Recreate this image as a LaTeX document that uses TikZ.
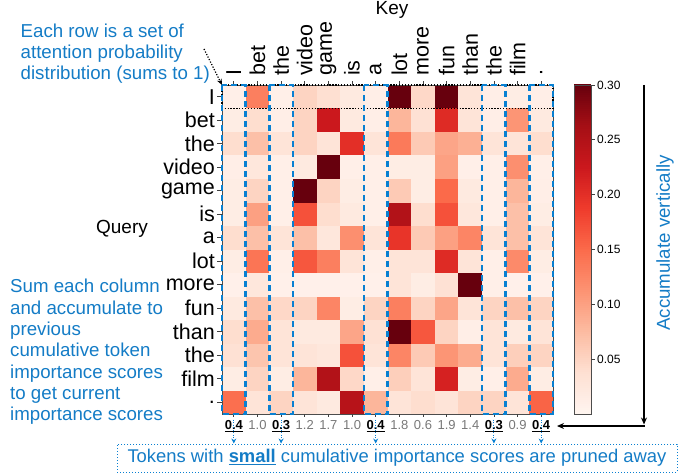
\documentclass[tikz,border=0pt]{standalone}
\usepackage{fontspec}
\setmainfont{Liberation Sans}
\usetikzlibrary{arrows.meta}
\definecolor{R0}{RGB}{255,245,240}
\definecolor{R1}{RGB}{254,224,210}
\definecolor{R2}{RGB}{252,187,161}
\definecolor{R3}{RGB}{252,146,114}
\definecolor{R4}{RGB}{251,106,74}
\definecolor{R5}{RGB}{239,59,44}
\definecolor{R6}{RGB}{203,24,29}
\definecolor{R7}{RGB}{165,15,21}
\definecolor{R8}{RGB}{103,0,13}
\definecolor{annblue}{RGB}{20,124,198}
\definecolor{dashblue}{RGB}{8,128,210}
\definecolor{numgray}{RGB}{120,120,120}
\newcommand\hmcolor[1]{%
  \pgfmathsetmacro\hmT{min(#1/0.30*8,7.999)}%
  \pgfmathtruncatemacro\hmK{floor(\hmT)}%
  \pgfmathtruncatemacro\hmN{\hmK+1}%
  \pgfmathsetmacro\hmF{(\hmT-\hmK)*100}%
  \colorlet{heat}{R\hmN!\hmF!R\hmK}%
}
\tikzset{
  rowlab/.style={anchor=east, inner sep=0.5pt, font=\fontsize{21.5}{24}\selectfont},
  keylab/.style={rotate=90, anchor=west, inner sep=0.5pt, font=\fontsize{21.5}{24}\selectfont},
  axtitle/.style={inner sep=0pt, font=\fontsize{19}{22}\selectfont},
  tickline/.style={line width=0.7pt, black!75},
  colbox/.style={draw=dashblue, line width=2.7pt, dash pattern=on 6pt off 4pt},
  rowbox/.style={draw=black, line width=1.3pt, dash pattern=on 1.3pt off 1.6pt},
  anntext/.style={text=annblue, font=\fontsize{18.7}{21.3}\selectfont, inner sep=0pt, align=left},
  numlab/.style={anchor=base, inner sep=1pt, font=\fontsize{13}{15}\selectfont},
  cblab/.style={anchor=west, inner sep=0pt, font=\fontsize{12}{14}\selectfont},
  pointer/.style={black, line width=1.2pt, dash pattern=on 1.2pt off 1.6pt, -{Stealth[length=6pt,width=5pt]}},
  accarrow/.style={black, line width=1.3pt, -{Stealth[length=7pt,width=6pt]}},
  prunearrow/.style={dashblue, line width=1pt, dash pattern=on 1pt off 1.5pt, -{Stealth[length=5pt,width=5pt]}},
}
\begin{document}
\begin{tikzpicture}[x=1pt,y=-1pt]
\useasboundingbox (0,0) rectangle (683,476);
% heatmap cells
\foreach \rowvals [count=\r from 0] in {
 {0.010,0.130,0.010,0.050,0.037,0.020,0.012,0.300,0.045,0.300,0.030,0.012,0.015,0.012},
 {0.015,0.040,0.012,0.050,0.225,0.020,0.012,0.080,0.035,0.205,0.030,0.012,0.110,0.020},
 {0.040,0.070,0.030,0.050,0.030,0.200,0.030,0.135,0.060,0.095,0.085,0.030,0.030,0.040},
 {0.012,0.025,0.010,0.020,0.300,0.010,0.010,0.015,0.015,0.100,0.010,0.010,0.115,0.010},
 {0.015,0.050,0.010,0.300,0.050,0.015,0.010,0.060,0.015,0.150,0.020,0.010,0.080,0.012},
 {0.015,0.100,0.010,0.170,0.040,0.020,0.010,0.250,0.040,0.170,0.025,0.010,0.070,0.015},
 {0.040,0.070,0.030,0.070,0.025,0.115,0.030,0.195,0.060,0.100,0.125,0.030,0.070,0.030},
 {0.015,0.140,0.010,0.165,0.130,0.030,0.010,0.030,0.030,0.205,0.030,0.010,0.120,0.015},
 {0.008,0.025,0.008,0.008,0.008,0.008,0.008,0.030,0.015,0.035,0.300,0.010,0.008,0.008},
 {0.020,0.070,0.045,0.050,0.125,0.015,0.050,0.130,0.050,0.095,0.030,0.050,0.070,0.050},
 {0.040,0.090,0.030,0.020,0.020,0.095,0.035,0.300,0.165,0.050,0.012,0.030,0.020,0.030},
 {0.035,0.065,0.030,0.030,0.025,0.170,0.030,0.125,0.060,0.110,0.090,0.030,0.055,0.050},
 {0.015,0.050,0.015,0.080,0.250,0.045,0.010,0.055,0.030,0.215,0.015,0.010,0.090,0.015},
 {0.145,0.030,0.050,0.030,0.020,0.245,0.080,0.030,0.040,0.030,0.050,0.050,0.030,0.155}} {
  \foreach \v [count=\c from 0] in \rowvals {
    \hmcolor{\v}
    \fill[heat] ({222+\c*23.643},{85+\r*23.5}) rectangle ++(23.9,23.75);
  }
}
\coordinate (hmTL) at (222,85);
\coordinate (hmBR) at (553,414);
\draw[line width=0.8pt, black!70] (hmTL) rectangle (hmBR);
% ticks
\foreach \i in {0,...,13} {
  \draw[tickline] (222,{96.75+23.5*\i}) -- (217,{96.75+23.5*\i});
  \draw[tickline] ({233.82+23.643*\i},85) -- ({233.82+23.643*\i},81);
  \draw[tickline] ({233.82+23.643*\i},414) -- ({233.82+23.643*\i},417);
}
% row box (first query row)
\draw[rowbox] (222,85) rectangle (553,108.5);
% pruned column boxes
\foreach \c in {0,2,6,11,13} {
  \draw[colbox] ({222+\c*23.643},85) rectangle ({222+(\c+1)*23.643},414);
}
% row labels
\foreach \lab [count=\i from 0] in {I,bet,the,video,game,is,a,lot,more,fun,than,the,film,{.}} {
  \node[rowlab] (rl\i) at (215.5,{96.75+23.5*\i}) {\lab};
}
% key labels
\foreach \lab [count=\i from 0] in {I,bet,the,video,game,is,a,lot,more,fun,than,the,film,{.}} {
  \node[keylab] (kl\i) at ({233.82+23.643*\i},76.5) {\lab};
}
\node[axtitle] (keytitle) at (392,10) {Key};
\node[axtitle] (querytitle) at (122,229) {Query};
% cumulative scores
\foreach \n/\p [count=\i from 0] in {0.4/1,1.0/0,0.3/1,1.2/0,1.7/0,1.0/0,0.4/1,1.8/0,0.6/0,1.9/0,1.4/0,0.3/1,0.9/0,0.4/1} {
  \node[numlab] (num\i) at ({233.82+23.643*\i},429.8) {\ifnum\p=1 \underline{\textbf{\n}}\else\textcolor{numgray}{\n}\fi};
}
% colorbar
\foreach \i in {0,...,164} {
  \hmcolor{(\i+0.5)/165*0.3}
  \fill[heat] (574,{414-\i*1.99394}) rectangle (591,{414-(\i+1)*1.99394-0.5});
}
\draw[line width=0.8pt, black!70] (574,85) rectangle (591,414);
\foreach \v [count=\i] in {0.05,0.10,0.15,0.20,0.25,0.30} {
  \draw[tickline] (591,{414-\v/0.3*329}) -- (594.5,{414-\v/0.3*329});
  \node[cblab] (cb\i) at (597,{414-\v/0.3*329}) {\v};
}
% accumulate arrows
\coordinate (accA) at (644,85);
\coordinate (accB) at (644,424.5);
\coordinate (accC) at (644.65,426);
\coordinate (accD) at (557,426);
\draw[accarrow] (accA) -- (accB);
\draw[accarrow] (accC) -- (accD);
\node[anntext, rotate=90] (acctext) at (665,243) {Accumulate vertically};
% annotations
\node[anntext, anchor=north west] (eachtxt) at (20.5,23.5) {Each row is a set of\\attention probability\\distribution (sums to 1)};
\coordinate (dotstart) at (204,49);
\draw[pointer] (dotstart) -- (hmTL);
\node[anntext, anchor=north west] (sumtxt) at (10,279.2) {Sum each column\\and accumulate to\\previous\\cumulative token\\importance scores\\to get current\\importance scores};
\node[draw=dashblue, line width=1pt, dash pattern=on 1pt off 2pt, minimum width=560pt, minimum height=28pt, inner sep=0pt, text=annblue, font=\fontsize{18.4}{21}\selectfont] (prunebox) at (397,458) {Tokens with \underline{\textbf{small}} cumulative importance scores are pruned away};
\foreach \i in {0,2,6,11,13} {
  \draw[prunearrow] (num\i.north) -- (num\i.north |- prunebox.north);
}
\end{tikzpicture}
\end{document}
